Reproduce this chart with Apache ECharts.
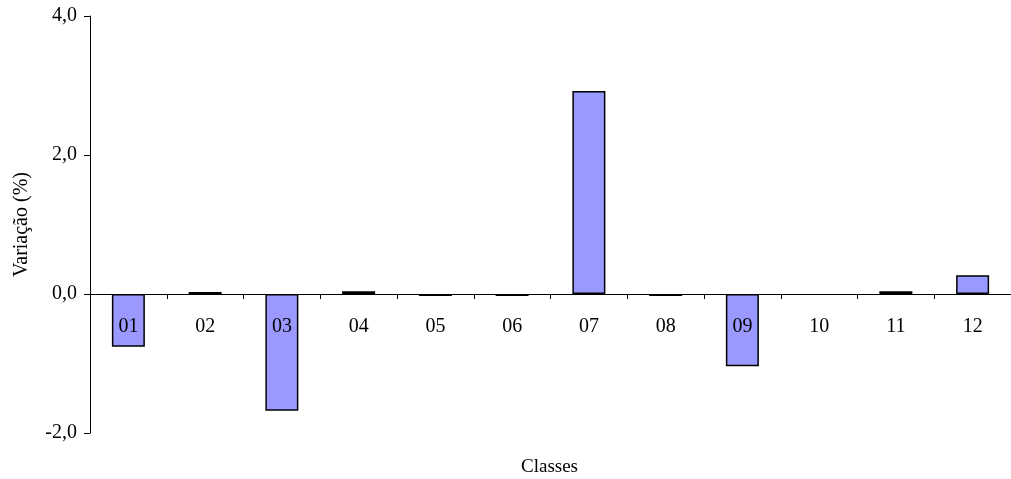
<!DOCTYPE html>
<html>
<head>
<meta charset="utf-8">
<script src="https://cdn.jsdelivr.net/npm/echarts@6/dist/echarts.min.js"></script>
<style>
html,body{margin:0;padding:0;background:#fff;}
#chart{width:1011px;height:479px;}
</style>
</head>
<body>
<div id="chart"></div>
<script>
const categories = ['01','02','03','04','05','06','07','08','09','10','11','12'];
const values = [-0.76, 0.02, -1.68, 0.04, -0.03, -0.02, 2.92, -0.02, -1.04, 0, 0.04, 0.27];
const yTicks = { min: -2, max: 4, interval: 2 };
const xTitle = 'Classes';
const yTitle = 'Variação (%)';

const FONT = '"Liberation Serif", "Times New Roman", serif';
const GRID_TOP = 16, GRID_BOTTOM = 46, H = 479;
const plotH = H - GRID_TOP - GRID_BOTTOM;
const zeroOffset = -plotH * (0 - yTicks.min) / (yTicks.max - yTicks.min);

const chart = echarts.init(document.getElementById('chart'), null, {renderer: 'canvas'});
chart.setOption({
  animation: false,
  backgroundColor: '#ffffff',
  grid: { left: 90, right: 0, top: GRID_TOP, bottom: GRID_BOTTOM, containLabel: false },
  xAxis: {
    type: 'category',
    data: categories,
    z: 5,
    offset: zeroOffset,
    axisLine: { onZero: false, lineStyle: { color: '#000', width: 1 } },
    axisTick: { show: true, alignWithLabel: false, inside: false, length: 5, lineStyle: { color: '#000', width: 1 } },
    axisLabel: { color: '#000', fontFamily: FONT, fontSize: 20, margin: 23 },
    splitLine: { show: false }
  },
  yAxis: {
    type: 'value',
    min: yTicks.min, max: yTicks.max, interval: yTicks.interval,
    name: yTitle,
    nameLocation: 'middle',
    nameGap: 58,
    nameRotate: 90,
    nameTextStyle: { color: '#000', fontFamily: FONT, fontSize: 20 },
    axisLine: { show: true, onZero: false, lineStyle: { color: '#000', width: 1 } },
    axisTick: { show: true, inside: false, length: 6, lineStyle: { color: '#000', width: 1 } },
    axisLabel: { color: '#000', fontFamily: FONT, fontSize: 20, margin: 13,
      formatter: v => v.toFixed(1).replace('.', ',') },
    splitLine: { show: false }
  },
  graphic: [{
    type: 'text',
    left: 521,
    top: 458,
    style: { text: xTitle, fill: '#000', font: '19px ' + FONT }
  }],
  series: [{
    type: 'bar',
    data: values.map(v => v === 0
      ? { value: v, itemStyle: { borderWidth: 0, color: 'rgba(0,0,0,0)' } }
      : v),
    barWidth: '43%',
    barMinHeight: 2,
    itemStyle: { color: '#9999ff', borderColor: '#000', borderWidth: 1.5 }
  }]
});
</script>
</body>
</html>
